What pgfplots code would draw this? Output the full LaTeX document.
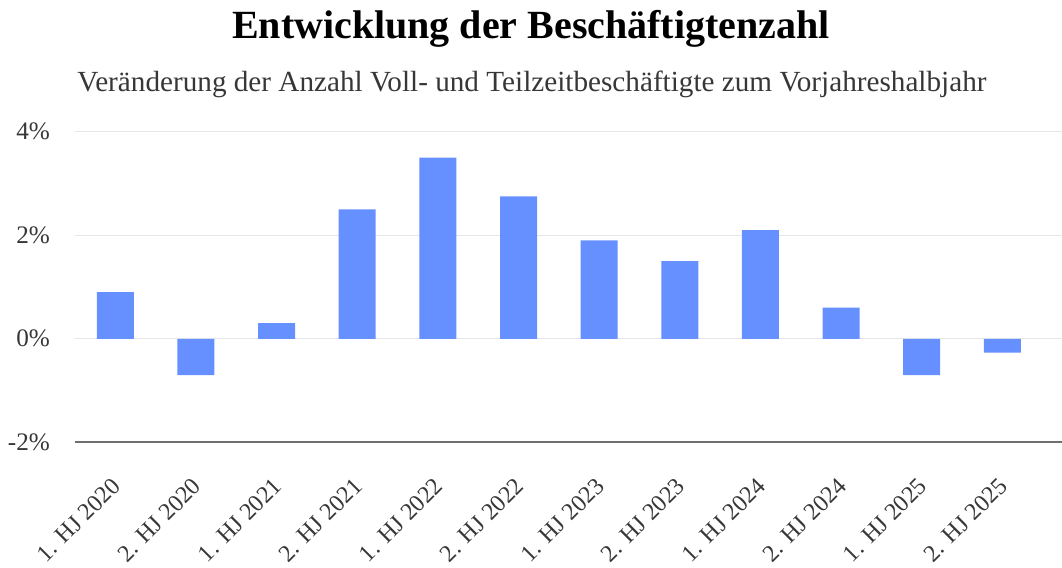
\documentclass[border=0pt]{standalone}
\usepackage{fontspec}
\setmainfont{Liberation Serif}
\usepackage{pgfplots}
\pgfplotsset{compat=1.18}
\definecolor{barblue}{RGB}{102,144,255}
\definecolor{gridgray}{RGB}{230,230,230}
\definecolor{axisgray}{RGB}{110,110,110}
\definecolor{textgray}{RGB}{55,55,55}
\begin{document}
\begin{tikzpicture}
\path[use as bounding box] (-37.5pt,-62.85pt) rectangle (493.5pt,221.15pt);
\begin{axis}[
  scale only axis, width=493.5pt, height=155.3pt,
  xmin=-0.5, xmax=11.74, ymin=-2, ymax=4,
  axis line style={draw=none},
  tick style={draw=none}, major tick length=0pt,
  ytick={-2,0,2,4},
  ymajorgrids, grid style={gridgray, line width=0.6pt},
  extra y ticks={-2}, extra y tick labels={},
  extra y tick style={grid style={axisgray, line width=1pt}},
  /pgf/number format/assume math mode=true,
  yticklabel={\pgfmathprintnumber{\tick}\%},
  yticklabel style={font=\fontsize{12.6}{14}\selectfont, text=textgray, xshift=-9pt},
  xtick={0,...,11},
  xticklabels={1. HJ 2020, 2. HJ 2020, 1. HJ 2021, 2. HJ 2021, 1. HJ 2022, 2. HJ 2022, 1. HJ 2023, 2. HJ 2023, 1. HJ 2024, 2. HJ 2024, 1. HJ 2025, 2. HJ 2025},
  xticklabel style={xshift=3pt, yshift=-17.5pt, rotate=45, anchor=east, font=\fontsize{12}{13}\selectfont, text=textgray},
]
\addplot[ybar, bar width=18.5pt, fill=barblue, draw=none] coordinates {
  (0,0.9) (1,-0.7) (2,0.3) (3,2.5) (4,3.5) (5,2.75)
  (6,1.9) (7,1.5) (8,2.1) (9,0.6) (10,-0.7) (11,-0.27)
};
\end{axis}
\node[anchor=base, font=\bfseries\fontsize{20}{22}\selectfont] at (228pt,201.65pt) {Entwicklung der Beschäftigtenzahl};
\node[anchor=base west, inner sep=0pt, font=\fontsize{14.6}{16}\selectfont, text=textgray] at (1pt,175.15pt) {Veränderung der Anzahl Voll- und Teilzeitbeschäftigte zum Vorjahreshalbjahr};
\end{tikzpicture}
\end{document}
